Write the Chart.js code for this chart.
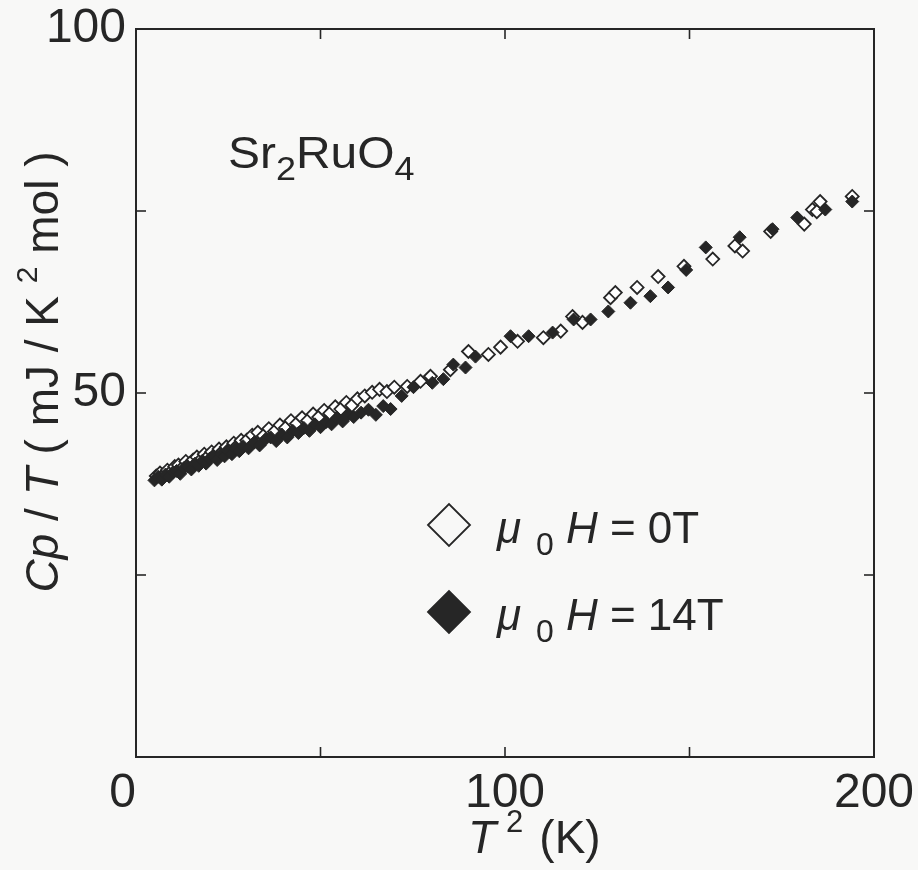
<!DOCTYPE html>
<html><head><meta charset="utf-8">
<script src="https://cdn.jsdelivr.net/npm/chart.js@4.4.0/dist/chart.umd.min.js"></script>
<style>html,body{margin:0;padding:0;background:#f8f8f7;}</style>
</head><body>
<canvas id="c" width="918" height="870"></canvas>
<script>
// ---- data ----
const seriesNames = ["0T", "14T"];
const T2_0T = [5.5,6.5,7.5,8.5,9.5,10.5,11.5,12.5,13.5,14.5,15.5,16.5,17.5,18.5,19.5,20.5,21.5,22.5,23.5,24.5,25.5,26.5,27.5,28.5,30,31.5,33,34.5,36,37.5,39,40.5,42,43.5,45,46.5,48,49.5,51,52.5,54,55.5,57,58.5,60,62,64,66,68,70,73.5,77.1,79.8,85.2,90.1,95.5,98.8,103.4,110.4,115.1,118.3,121.0,128.6,129.9,135.8,141.5,148.5,156.3,162.3,164.4,172.0,181.1,183.3,184.5,185.4,194.1];
const Cp_0T = [38.6,39.0,38.8,39.4,39.2,39.9,40.1,39.7,40.6,40.3,40.8,41.2,40.8,41.6,41.3,41.9,41.6,42.3,42.0,42.6,42.4,43.1,42.8,43.5,43.5,44.2,44.6,44.1,45.1,44.7,45.6,45.2,46.2,45.8,46.6,46.2,47.1,46.7,47.6,47.2,48.1,47.8,48.7,48.3,49.2,49.6,50.1,50.5,50.2,50.8,50.9,51.6,52.3,53.2,55.7,55.3,56.3,57.1,57.6,58.5,60.5,59.7,63.1,63.8,64.5,66.0,67.4,68.4,70.2,69.5,72.2,73.2,75.2,74.9,76.3,77.0];
const T2_14T = [5.0,6.0,7.0,8.0,9.0,10.0,11.0,12.0,13.0,14.0,15.0,16.0,17.0,18.0,19.0,20.0,21.0,22.0,23.0,24.0,25.0,26.0,27.0,28.0,29.0,30.5,32.0,33.5,35.0,36.5,38.0,39.5,41.0,42.5,44.0,45.5,47.0,48.5,50.0,51.5,53.0,54.5,56.0,57.5,59.0,61.0,63.0,65.0,67.0,69.0,72.0,75.2,80.3,83.3,86.0,89.3,92.0,101.5,106.4,112.9,118.6,123.2,128.0,134.0,139.4,144.2,149.1,154.4,163.6,172.5,179.2,186.8,194.1];
const Cp_14T = [38.0,38.5,38.1,38.8,38.5,39.1,39.3,38.9,39.7,39.9,39.5,40.3,40.0,40.7,40.3,41.0,41.3,40.8,41.6,41.3,42.0,41.6,42.4,42.0,42.7,42.4,43.2,42.8,43.6,43.9,43.4,44.3,43.9,44.8,44.5,45.2,44.8,45.7,45.3,46.0,45.7,46.6,46.1,47.0,46.7,47.3,47.7,47.0,48.2,47.8,49.6,50.8,51.4,51.9,53.9,53.5,55.0,57.8,57.8,58.3,60.1,60.1,61.2,62.4,63.3,64.5,66.9,70.0,71.4,72.5,74.1,75.2,76.3];
const xTickValues = [0, 50, 100, 150, 200];
const xTickLabels = ["0\u2007", "", "100", "", "200"];
const yTickValues = [0, 25, 50, 75, 100];
const yTickLabels = ["", "", "50", "", "100"];

// ---- styling ----
const INK = '#262626';
const BG = '#f8f8f7';
const FONT = '"Liberation Sans", Arial, Helvetica, sans-serif';

function runs(ctx, x, y, list) {
  let cx = x;
  for (const r of list) {
    ctx.font = r.f;
    ctx.fillText(r.t, cx, y + (r.dy || 0));
    cx += ctx.measureText(r.t).width + (r.gap || 0);
  }
  return cx - x;
}
function measureRuns(ctx, list) {
  let w = 0;
  for (const r of list) { ctx.font = r.f; w += ctx.measureText(r.t).width + (r.gap || 0); }
  return w;
}
function stretchedRuns(ctx, x, y, sx, list) {
  ctx.save();
  ctx.translate(x, y);
  ctx.scale(sx, 1);
  runs(ctx, 0, 0, list);
  ctx.restore();
}

const deco = {
  id: 'deco',
  beforeDraw(chart) {
    const {ctx, width, height} = chart;
    ctx.save(); ctx.fillStyle = BG; ctx.fillRect(0, 0, width, height); ctx.restore();
  },
  afterDraw(chart) {
    const {ctx, chartArea: a, scales: {x, y}} = chart;
    ctx.save();
    ctx.strokeStyle = INK; ctx.fillStyle = INK;
    ctx.lineWidth = 2;
    ctx.strokeRect(a.left, a.top, a.right - a.left, a.bottom - a.top);
    ctx.lineWidth = 1.6;
    const L = 10;
    const seg = (x1, y1, x2, y2) => { ctx.beginPath(); ctx.moveTo(x1, y1); ctx.lineTo(x2, y2); ctx.stroke(); };
    x.ticks.forEach(t => {
      if (t.value <= x.min || t.value >= x.max) return;
      const p = x.getPixelForValue(t.value);
      seg(p, a.bottom, p, a.bottom - L); seg(p, a.top, p, a.top + L);
    });
    y.ticks.forEach(t => {
      if (t.value <= y.min || t.value >= y.max) return;
      const p = y.getPixelForValue(t.value);
      seg(a.left, p, a.left + L, p); seg(a.right, p, a.right - L, p);
    });

    ctx.textBaseline = 'alphabetic';
    ctx.textAlign = 'left';
    const R = s => `${s}px ${FONT}`, I = s => `italic ${s}px ${FONT}`;

    // compound label
    stretchedRuns(ctx, 228, 168, 1.09, [
      {t: 'Sr', f: R(44)}, {t: '2', f: R(33), dy: 12},
      {t: 'RuO', f: R(44)}, {t: '4', f: R(33), dy: 12}
    ]);

    // legend markers
    const drawDiamond = (cx, cy, r, filled) => {
      ctx.beginPath();
      ctx.moveTo(cx - r, cy); ctx.lineTo(cx, cy - r); ctx.lineTo(cx + r, cy); ctx.lineTo(cx, cy + r); ctx.closePath();
      ctx.fillStyle = filled ? INK : BG; ctx.fill();
      ctx.lineWidth = 1.8; ctx.strokeStyle = INK; ctx.stroke();
      ctx.fillStyle = INK;
    };
    drawDiamond(449, 525, 21, false);
    drawDiamond(449, 612, 21, true);
    seriesNames.forEach((name, i) => {
      const by = 543 + i * 87;
      runs(ctx, 497, by, [
        {t: 'μ', f: I(44), gap: 15}, {t: '0', f: R(32), dy: 12, gap: 12}, {t: 'H', f: I(44)},
        {t: ' = ' + name, f: R(44)}
      ]);
    });

    // x axis title
    runs(ctx, 468, 853, [
      {t: 'T', f: I(46), gap: 10}, {t: '2', f: R(31), dy: -21, gap: 16}, {t: '(K)', f: R(46)}
    ]);

    // y axis title (rotated)
    const yt = [
      {t: 'Cp', f: I(46)}, {t: ' / ', f: R(46)}, {t: 'T', f: I(46)}, {t: ' ( mJ / K ', f: R(46)},
      {t: '2', f: R(30), dy: -21}, {t: ' mol )', f: R(46)}
    ];
    ctx.save();
    ctx.translate(58, 372);
    ctx.rotate(-Math.PI / 2);
    const w = measureRuns(ctx, yt);
    runs(ctx, -w / 2, 0, yt);
    ctx.restore();

    ctx.restore();
  }
};

const toPts = (xs, ys) => xs.map((v, i) => ({x: v, y: ys[i]}));

new Chart(document.getElementById('c'), {
  type: 'scatter',
  data: {
    datasets: [
      {label: seriesNames[1], data: toPts(T2_14T, Cp_14T), pointStyle: 'rectRot', pointRadius: 6.5,
       backgroundColor: INK, borderColor: INK, borderWidth: 1, order: 0},
      {label: seriesNames[0], data: toPts(T2_0T, Cp_0T), pointStyle: 'rectRot', pointRadius: 6.5,
       backgroundColor: '#ffffff', borderColor: INK, borderWidth: 1.8, order: 1}
    ]
  },
  options: {
    responsive: false,
    animation: false,
    events: [],
    layout: {padding: {top: 29, right: 44, left: 0, bottom: 0}},
    plugins: {legend: {display: false}, tooltip: {enabled: false}},
    scales: {
      x: {
        type: 'linear', min: 0, max: 200,
        afterBuildTicks: s => { s.ticks = xTickValues.map(v => ({value: v})); },
        afterFit: s => { s.height = 113; s.paddingLeft = 0; s.paddingRight = 0; },
        ticks: {
          callback: v => xTickLabels[xTickValues.indexOf(v)] ?? '',
          font: {family: FONT, size: 48}, color: INK, padding: 8, maxRotation: 0, autoSkip: false
        },
        grid: {display: false, drawTicks: false},
        border: {display: false}
      },
      y: {
        type: 'linear', min: 0, max: 100,
        afterBuildTicks: s => { s.ticks = yTickValues.map(v => ({value: v})); },
        afterFit: s => { s.width = 136; s.paddingTop = 0; s.paddingBottom = 0; },
        ticks: {
          callback: v => yTickLabels[yTickValues.indexOf(v)] ?? '',
          font: {family: FONT, size: 48}, color: INK, padding: 10, autoSkip: false
        },
        grid: {display: false, drawTicks: false},
        border: {display: false}
      }
    }
  },
  plugins: [deco]
});
</script>
</body></html>
